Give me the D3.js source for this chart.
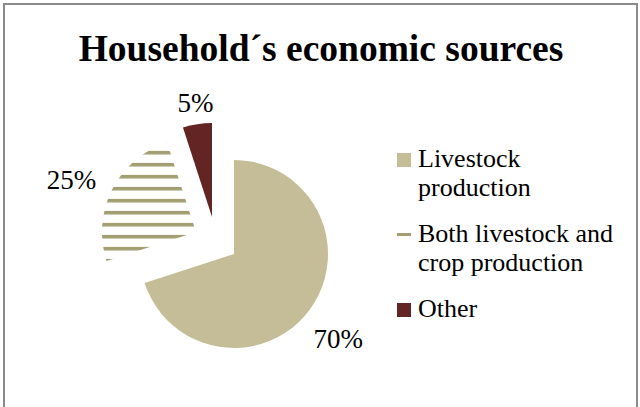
<!DOCTYPE html>
<html>
<head>
<meta charset="utf-8">
<script src="https://cdn.jsdelivr.net/npm/d3@7"></script>
<style>
  html, body { margin: 0; padding: 0; background: #fff; }
  svg { display: block; }
  text { font-family: "Liberation Serif", "Times New Roman", serif; fill: #000; }
</style>
</head>
<body>
<svg id="chart" width="640" height="407"></svg>
<script>
// Household economic sources (share of households, %)
const categories = ["Livestock production", "Both livestock and crop production", "Other"];
const values = [70, 25, 5];
const valueLabels = ["70%", "25%", "5%"];
const legendLines = [["Livestock", "production"], ["Both livestock and", "crop production"], ["Other"]];
const title = "Household\u00b4s economic sources";

const W = 640, H = 407;
const svg = d3.select("#chart");

// chart frame
svg.append("rect")
  .attr("x", 4).attr("y", 4)
  .attr("width", 633).attr("height", H + 10)
  .attr("fill", "#fff").attr("stroke", "#8c8c8c").attr("stroke-width", 2);

svg.append("text")
  .attr("x", 321).attr("y", 61)
  .attr("text-anchor", "middle")
  .attr("font-size", 37.5).attr("font-weight", "bold")
  .text(title);

const cx = 234, cy = 254, R = 94;
// exploded slices are pulled away from the centre
const explode = [[0, 0], [-38, -22], [-22, -37]];

const stripeFill = "#a29e72";
const colors = ["#c4bd97", "url(#stripes)", "#632523"];
const legendColors = ["#c4bd97", stripeFill, "#632523"];

// horizontal stripe fill for the second slice, laid out in the slice's own coordinates
const defs = svg.append("defs");
const pat = defs.append("pattern")
  .attr("id", "stripes")
  .attr("patternUnits", "userSpaceOnUse")
  .attr("width", 8).attr("height", 12)
  .attr("y", 152.7 - 1.8 - (cy + explode[1][1]));
pat.append("rect").attr("width", 8).attr("height", 3.6).attr("fill", stripeFill);

const pie = d3.pie().sort(null).value(d => d)
  .startAngle(0).endAngle(2 * Math.PI);
const arcs = pie(values);
const arc = d3.arc().innerRadius(0).outerRadius(R);

const slices = svg.append("g");
arcs.forEach((a, i) => {
  const [dx, dy] = explode[i];
  slices.append("path")
    .attr("transform", `translate(${cx + dx},${cy + dy})`)
    .attr("d", arc(a))
    .attr("fill", colors[i]);
});

// value labels placed outside each slice
const labelR = R + 30;
const labelAdj = [[4, 21], [-14, 13], [3, 17]];
arcs.forEach((a, i) => {
  const [dx, dy] = explode[i];
  const mid = (a.startAngle + a.endAngle) / 2;
  const x = cx + dx + Math.sin(mid) * labelR;
  const y = cy + dy - Math.cos(mid) * labelR;
  svg.append("text")
    .attr("x", x + labelAdj[i][0]).attr("y", y + labelAdj[i][1])
    .attr("text-anchor", "middle")
    .attr("font-size", 27)
    .text(valueLabels[i]);
});

// legend
const legend = svg.append("g").attr("transform", "translate(397,0)");
const rowBase = [167, 242, 317];
const lineH = 29;
categories.forEach((c, i) => {
  if (i === 1) {
    legend.append("rect").attr("x", 0).attr("y", rowBase[i] - 9).attr("width", 14).attr("height", 3)
      .attr("fill", legendColors[i]);
  } else {
    legend.append("rect").attr("x", 0).attr("y", rowBase[i] - 14).attr("width", 14).attr("height", 14)
      .attr("fill", legendColors[i]);
  }
  const t = legend.append("text").attr("x", 21).attr("y", rowBase[i]).attr("font-size", 26);
  legendLines[i].forEach((ln, j) => {
    t.append("tspan").attr("x", 21).attr("y", rowBase[i] + j * lineH).text(ln);
  });
});
</script>
</body>
</html>
